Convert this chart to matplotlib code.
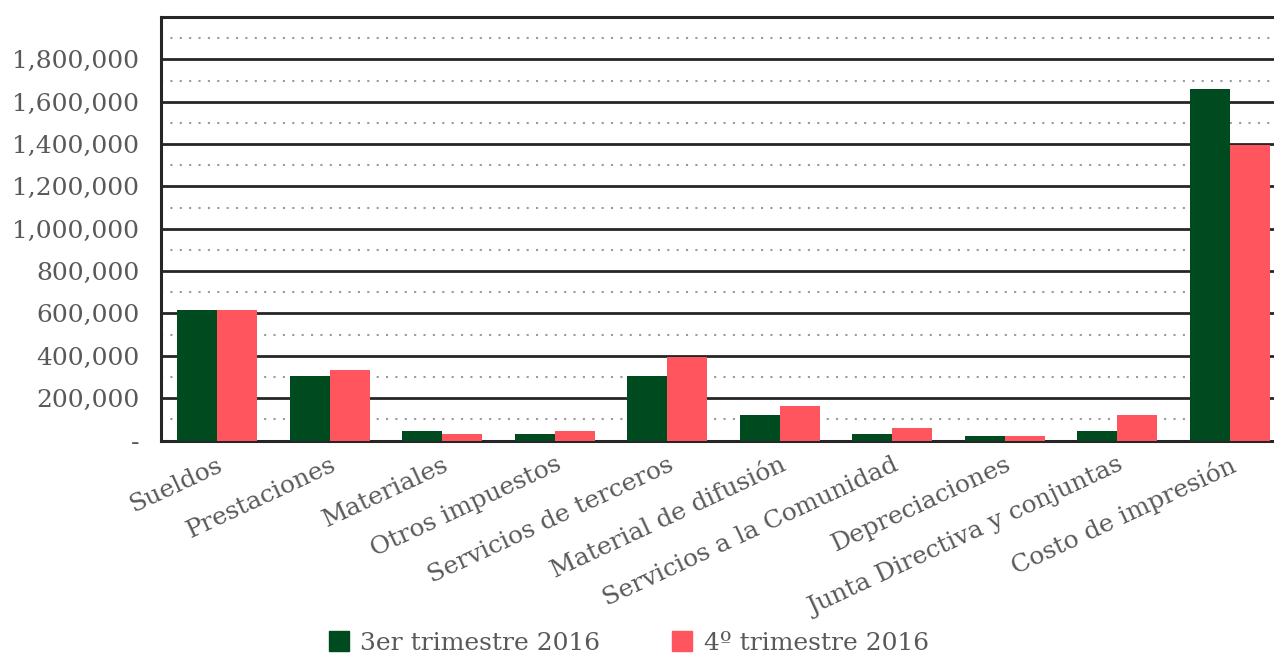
import matplotlib
matplotlib.use("Agg")
import matplotlib.pyplot as plt
from matplotlib.lines import Line2D
from matplotlib.ticker import FuncFormatter, MultipleLocator
import numpy as np

categories = ["Sueldos", "Prestaciones", "Materiales", "Otros impuestos",
              "Servicios de terceros", "Material de difusión",
              "Servicios a la Comunidad", "Depreciaciones",
              "Junta Directiva y conjuntas", "Costo de impresión"]
q3_2016 = [617000, 305000, 45000, 31000, 305000, 120000, 31000, 21000, 46000, 1662000]
q4_2016 = [617000, 333000, 31000, 45000, 395000, 163000, 59000, 21000, 120000, 1397000]
series_names = ["3er trimestre 2016", "4º trimestre 2016"]

green = "#004A20"
pink = "#FF555E"
text_gray = "#595959"
grid_dark = "#262626"

plt.rcParams['font.family'] = ['DejaVu Serif']
plt.rcParams['font.size'] = 18

fig = plt.figure(figsize=(12.74, 6.56), dpi=100)
ax = fig.add_axes([161/1274, 1 - 440.5/656, 1125/1274, (440.5 - 17)/656])

x = np.arange(len(categories))
w = 0.356
ax.bar(x - w/2, q3_2016, w, color=green, zorder=3)
ax.bar(x + w/2, q4_2016, w, color=pink, zorder=3)

ax.set_xlim(-0.5, len(categories) - 0.5)
ax.set_ylim(0, 2000000)
ax.yaxis.set_major_locator(MultipleLocator(200000))
ax.yaxis.set_minor_locator(MultipleLocator(100000))
ax.grid(which='major', axis='y', color=grid_dark, lw=2.0, zorder=1)
ax.grid(which='minor', axis='y', color="#9a9a9a", lw=1.5, linestyle=(0, (1, 3.5)), zorder=1)

def fmt(v, pos):
    if v == 0:
        return "-"
    if v >= 2000000:
        return ""
    return "{:,.0f}".format(v)
ax.yaxis.set_major_formatter(FuncFormatter(fmt))
ax.tick_params(axis='y', which='both', length=0, pad=15.5, colors=text_gray, labelsize=18)
ax.tick_params(axis='x', length=0, pad=9, colors=text_gray)

ax.set_xticks(x)
ax.set_xticklabels(categories, rotation=25, ha='right', rotation_mode='anchor', fontsize=18)

ax.spines['right'].set_visible(False)
for s in ['left', 'bottom', 'top']:
    ax.spines[s].set_color(grid_dark)
    ax.spines[s].set_linewidth(2.2)

handles = [Line2D([], [], marker='s', linestyle='none', markersize=14.5, color=c) for c in (green, pink)]
leg = fig.legend(handles, series_names, loc='center', bbox_to_anchor=(0.4935, 1 - 643/656),
                 ncol=2, frameon=False, handletextpad=0.45, columnspacing=2.9,
                 handlelength=0.8, fontsize=18)
for t in leg.get_texts():
    t.set_color(text_gray)

fig.savefig("out.png", dpi=100)
